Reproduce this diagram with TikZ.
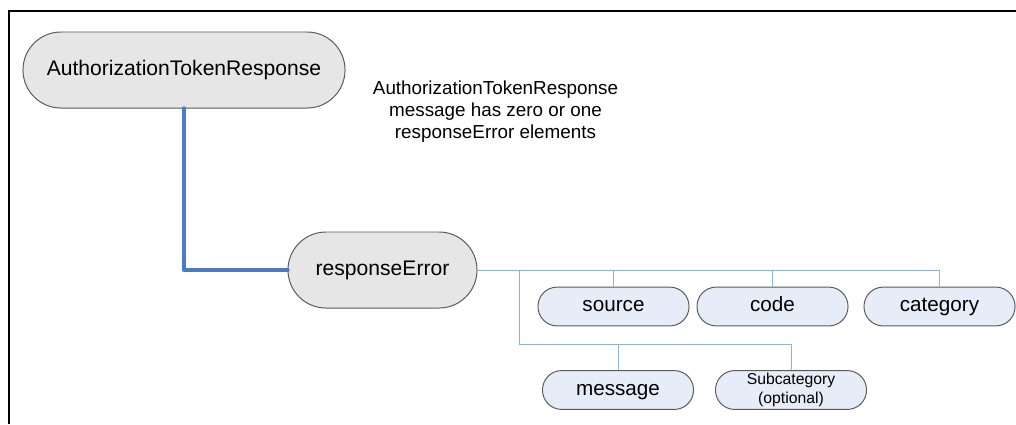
\documentclass[tikz,border=0pt]{standalone}
\usepackage{fontspec}
\setmainfont{Liberation Sans}
\usepackage{tikz}

\definecolor{boxgray}{HTML}{E6E6E6}
\definecolor{boxblue}{HTML}{E7EDF8}
\definecolor{edgegray}{HTML}{5A5A5A}
\definecolor{linkblue}{HTML}{4A7BC4}
\definecolor{branchblue}{HTML}{8FB1E0}

\tikzset{
  msgbox/.style={draw=edgegray, line width=0.7pt, fill=boxgray, inner sep=0pt,
    minimum width=#1, minimum height=1.9cm, rounded corners=0.95cm,
    font=\fontsize{15}{18}\selectfont},
  elembox/.style={draw=edgegray, line width=0.7pt, fill=boxblue, inner sep=0pt,
    minimum width=3.775cm, minimum height=0.97cm, rounded corners=0.48cm,
    font=\fontsize{14.7}{17}\selectfont, align=center},
  oneline/.style={text height=0.82em, text depth=0.1em},
  mainlink/.style={draw=linkblue, line width=3.2pt, line cap=round, line join=round},
  branch/.style={draw=branchblue, line width=0.7pt}
}

\begin{document}
\begin{tikzpicture}[x=0.025cm, y=-0.025cm]

      \useasboundingbox (0,0) rectangle (1016,424);

      % Frame
      \draw[line width=2.1pt] (9,424) -- (9,11) -- (1016,11);

      % Messages
      \node[msgbox=8.05cm] (atr) at (184,70) {AuthorizationTokenResponse};
      \node[msgbox=4.725cm] (err) at (382.5,270) {responseError};

      % Note
      \node[align=center, font=\fontsize{13.4}{15.6}\selectfont] (note) at (495.5,112)
        {AuthorizationTokenResponse\\message has zero or one\\responseError elements};

      % Elements
      \node[elembox, oneline] (src) at (613.5,306.5) {source};
      \node[elembox, oneline] (code) at (772.5,306.5) {code};
      \node[elembox, oneline] (cat) at (939.5,306.5) {category};
      \node[elembox, oneline] (msg) at (618,390) {message};
      \node[elembox, font=\fontsize{11.2}{13}\selectfont] (sub) at (791,390) {Subcategory\\(optional)};

      % Links
      \draw[mainlink] (atr.south) |- (err.west);

      \coordinate (split) at (519,270);
      \coordinate (lowbar) at (519,344);
      \draw[branch] (err.east) -| (cat.north);
      \draw[branch] (src.north) -- (src.north |- err.east);
      \draw[branch] (code.north) -- (code.north |- err.east);
      \draw[branch] (split) -- (lowbar) -| (sub.north);
      \draw[branch] (msg.north) -- (msg.north |- lowbar);

    \end{tikzpicture}
\end{document}
